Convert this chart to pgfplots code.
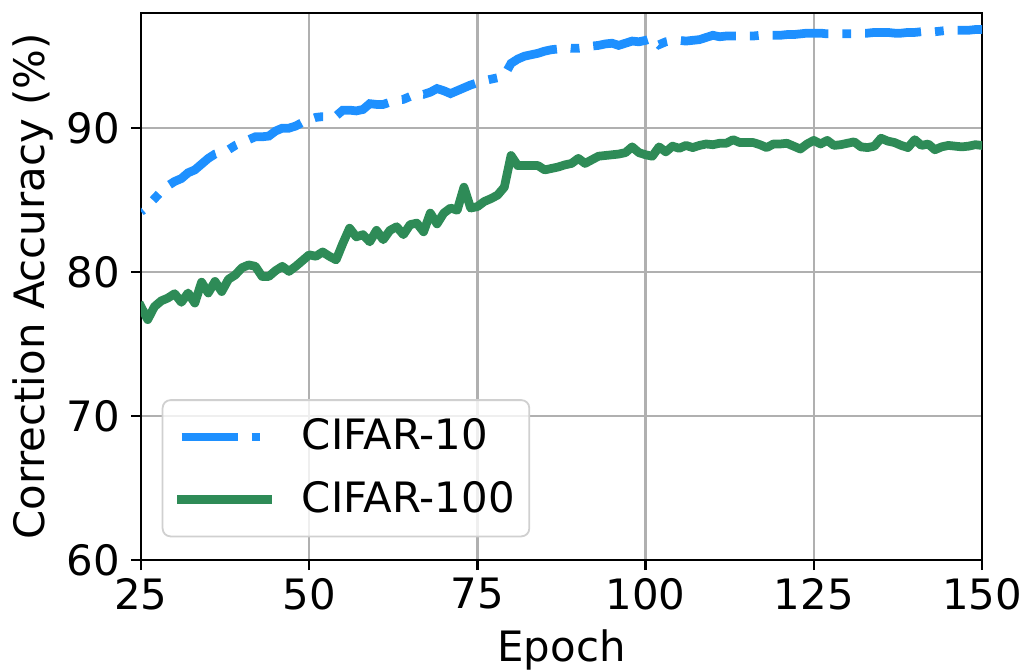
\documentclass[border=0pt]{standalone}
\usepackage{fontspec}
\setmainfont{DejaVu Sans}
\usepackage{pgfplots}
\usepackage{pgfplotstable}
\pgfplotsset{compat=1.18}

\definecolor{cifarten}{RGB}{30,144,255}
\definecolor{cifarhundred}{RGB}{46,139,87}
\definecolor{gridgray}{HTML}{B0B0B0}
\definecolor{legendedge}{HTML}{D0D0D0}

% epoch, correction accuracy (%)
\pgfplotstableread{
epoch acc
25 84.2
26 84.6
27 85.1
28 85.6
29 86.0
30 86.3
31 86.5
32 86.9
33 87.1
34 87.5
35 87.9
36 88.2
37 88.35
38 88.5
39 88.8
40 89.0
41 89.2
42 89.4
43 89.4
44 89.45
45 89.8
46 90.0
47 90.0
48 90.15
49 90.4
50 90.6
51 90.75
52 90.8
53 90.8
54 90.85
55 91.25
56 91.25
57 91.2
58 91.3
59 91.7
60 91.65
61 91.65
62 91.8
63 91.95
64 92.0
65 92.2
66 92.4
67 92.35
68 92.5
69 92.75
70 92.6
71 92.4
72 92.6
73 92.8
74 93.0
75 93.15
76 93.3
77 93.4
78 93.5
79 93.65
80 94.5
81 94.8
82 95.0
83 95.1
84 95.2
85 95.35
86 95.45
87 95.5
88 95.6
89 95.55
90 95.55
91 95.6
92 95.7
93 95.75
94 95.85
95 95.9
96 95.75
97 95.9
98 96.05
99 96.0
100 96.1
101 96.25
102 95.8
103 96.0
104 96.1
105 96.1
106 96.05
107 96.1
108 96.15
109 96.3
110 96.45
111 96.35
112 96.4
113 96.4
114 96.4
115 96.4
116 96.4
117 96.45
118 96.45
119 96.45
120 96.45
121 96.5
122 96.5
123 96.55
124 96.6
125 96.6
126 96.6
127 96.55
128 96.55
129 96.55
130 96.55
131 96.55
132 96.6
133 96.6
134 96.65
135 96.65
136 96.65
137 96.6
138 96.6
139 96.65
140 96.65
141 96.7
142 96.7
143 96.7
144 96.75
145 96.8
146 96.8
147 96.8
148 96.8
149 96.85
150 96.85
}\cifarten

\pgfplotstableread{
epoch acc
25 77.6
26 76.7
27 77.6
28 78.0
29 78.2
30 78.5
31 77.9
32 78.55
33 77.85
34 79.3
35 78.55
36 79.35
37 78.65
38 79.5
39 79.8
40 80.3
41 80.5
42 80.4
43 79.7
44 79.7
45 80.1
46 80.4
47 80.05
48 80.4
49 80.8
50 81.2
51 81.1
52 81.4
53 81.1
54 80.85
55 82.0
56 83.05
57 82.45
58 82.6
59 82.1
60 82.9
61 82.25
62 82.9
63 83.15
64 82.6
65 83.3
66 83.4
67 82.8
68 84.1
69 83.35
70 84.1
71 84.45
72 84.3
73 85.9
74 84.45
75 84.55
76 84.9
77 85.1
78 85.35
79 85.9
80 88.1
81 87.4
82 87.4
83 87.4
84 87.4
85 87.1
86 87.2
87 87.3
88 87.45
89 87.55
90 87.9
91 87.55
92 87.8
93 88.05
94 88.1
95 88.15
96 88.2
97 88.3
98 88.7
99 88.3
100 88.15
101 88.05
102 88.7
103 88.35
104 88.75
105 88.6
106 88.8
107 88.65
108 88.8
109 88.9
110 88.85
111 88.95
112 88.95
113 89.2
114 89.0
115 89.0
116 89.0
117 88.85
118 88.65
119 88.9
120 88.9
121 88.95
122 88.75
123 88.55
124 88.9
125 89.15
126 88.9
127 89.15
128 88.8
129 88.85
130 88.95
131 89.05
132 88.7
133 88.65
134 88.75
135 89.3
136 89.1
137 89.0
138 88.8
139 88.65
140 89.2
141 88.8
142 88.9
143 88.5
144 88.7
145 88.8
146 88.75
147 88.7
148 88.75
149 88.85
150 88.8
}\cifarhundred

\begin{document}
\begin{tikzpicture}
\begin{axis}[
  name=ax,
  scale only axis,
  width=841bp, height=547bp,
  xmin=25, xmax=150, ymin=60, ymax=98,
  xtick={25,50,75,100,125,150},
  ytick={60,70,80,90},
  grid=major,
  major grid style={color=gridgray, line width=2.3bp},
  axis line style={line width=2.3bp},
  tick align=outside,
  major tick length=10bp,
  every tick/.style={black, line width=2.3bp},
  tick pos=left,
  font=\fontsize{42}{50}\selectfont,
  /pgf/number format/assume math mode=true,
  xticklabel style={inner sep=0pt, yshift=-8bp},
  yticklabel style={inner sep=0pt, xshift=-11bp},
  xlabel={Epoch},
  ylabel={Correction Accuracy (\%)},
  xlabel style={at={(axis description cs:0.5,-0.18592)}, anchor=base, inner sep=0pt},
  ylabel style={at={(axis description cs:-0.11415,0.5)}, anchor=base, inner sep=0pt},
  legend cell align=left,
  legend image code/.code={\draw[#1, dash phase=0bp] (0bp,0bp) -- (86bp,0bp);},
  legend style={
    at={(axis description cs:0,0)}, anchor=south west,
    xshift=20.7bp, yshift=22.7bp,
    draw=legendedge, line width=1.8bp, rounded corners=8bp,
    fill=white, fill opacity=0.8, text opacity=1,
    font=\fontsize{42}{50}\selectfont,
    row sep=25.7bp,
    inner xsep=14.6bp, inner ysep=18.3bp,
    nodes={inner sep=0pt, text height=31bp, text depth=6bp},
    /tikz/every odd column/.append style={column sep=30bp},
  },
]
\addplot[color=cifarten, line width=8.75bp, line cap=butt,
  dash pattern=on 56bp off 14bp on 8.75bp off 14bp, dash phase=53.4bp]
  table[x=epoch, y=acc] {\cifarten};
\addlegendentry{CIFAR-10}
\addplot[color=cifarhundred, line width=8.75bp, line cap=rect, line join=round]
  table[x=epoch, y=acc] {\cifarhundred};
\addlegendentry{CIFAR-100}
\end{axis}
\path[use as bounding box] ([shift={(-141bp,-110bp)}]ax.south west)
  rectangle ([shift={(46bp,13bp)}]ax.north east);
\end{tikzpicture}
\end{document}
